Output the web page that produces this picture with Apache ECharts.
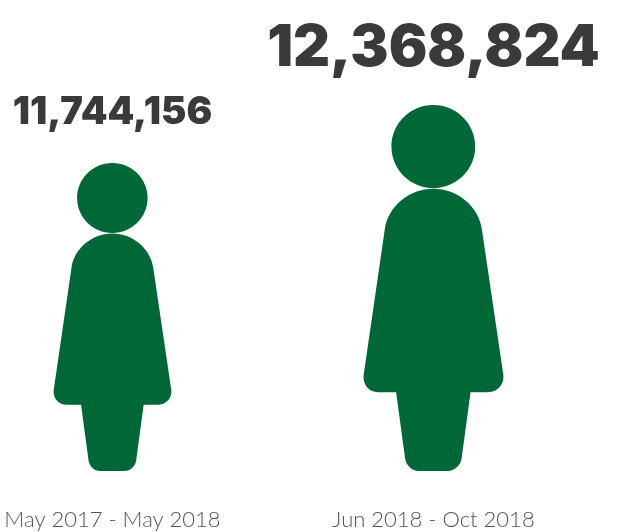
<!DOCTYPE html>
<html><head><meta charset="utf-8">
<style>html,body{margin:0;padding:0;background:#fff}#c{width:619px;height:532px}</style>
<script src="https://cdn.jsdelivr.net/npm/echarts@6/dist/echarts.min.js"></script>
</head><body><div id="c"></div>
<script>
const periods = ['May 2017 - May 2018', 'Jun 2018 - Oct 2018'];
const totals = [11744156, 12368824];

const axisMin = 8426000, axisMax = 13500000;
const aspect = 0.3825, labelGap = 39;
const labelSizes = [38.2, 57.3];
const figure = 'M249 30C318 30 374 86 374 155C374 224 318 280 249 280C180 280 124 224 124 155C124 86 180 30 249 30Z' +
  'M249 282C320 282 385 335 394 405L458 842C461 870 440 893 412 893L360 893L333 1095C328 1115 312 1130 292 1130L205 1130C185 1130 170 1115 165 1095L138 893L85 893C57 893 38 870 41 842L104 405C113 335 178 282 249 282Z';

const chart = echarts.init(document.getElementById('c'), null, {renderer: 'canvas'});
chart.setOption({
  animation: false,
  backgroundColor: '#fff',
  grid: {left: 112.5, right: 185.5, top: 0, bottom: 61},
  xAxis: {
    type: 'category', data: periods, boundaryGap: false,
    axisLine: {show: false}, axisTick: {show: false},
    axisLabel: {margin: 38, fontSize: 22, fontWeight: 300, color: '#555555', fontFamily: 'Lato', interval: 0, hideOverlap: false, alignMinLabel: 'center', alignMaxLabel: 'center'}
  },
  yAxis: {type: 'value', min: axisMin, max: axisMax, show: false, splitLine: {show: false}},
  series: [{
    type: 'custom',
    clip: false,
    data: totals.map((v, i) => [i, v]),
    encode: {x: 0, y: 1},
    renderItem: (params, api) => {
      const i = api.value(0), v = api.value(1);
      const top = api.coord([i, v]);
      const base = api.coord([i, axisMin]);
      const h = base[1] - top[1], w = h * aspect;
      const fs = labelSizes[i];
      return {
        type: 'group',
        children: [{
          type: 'path',
          shape: {pathData: figure, x: top[0] - w / 2, y: top[1], width: w, height: h, layout: 'cover'},
          style: {fill: '#006837'}
        }, {
          type: 'text',
          x: top[0], y: top[1] - labelGap + 0.19 * fs,
          style: {
            text: v.toLocaleString('en-US'),
            font: '900 ' + fs + 'px Inter',
            fill: '#3a3a3a', align: 'center', verticalAlign: 'bottom'
          }
        }]
      };
    }
  }]
});
</script></body></html>
